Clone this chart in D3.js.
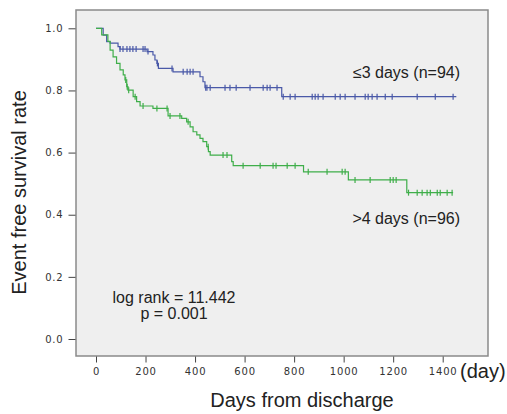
<!DOCTYPE html>
<html>
<head>
<meta charset="utf-8">
<script src="https://cdn.jsdelivr.net/npm/d3@7"></script>
<style>
  body { margin: 0; background: #fff; }
  .tick text { font-family: "DejaVu Sans", sans-serif; font-size: 10px; fill: #333; letter-spacing: 0.8px; }
  .tick line { stroke: #444; }
  .lbl { font-family: "Liberation Sans", Arial, sans-serif; fill: #222; }
</style>
</head>
<body>
<div id="graph"></div>
<script>
//x and y tick values
const xTicks = [0, 200, 400, 600, 800, 1000, 1200, 1400];
const yTicks = [0.0, 0.2, 0.4, 0.6, 0.8, 1.0];

//group <=3 days: step times and survival
const shortTimes = [0, 29, 43, 57, 89, 97, 206, 230, 238, 246, 252, 311, 420, 432, 440, 750];
const shortSurv  = [1.0, 0.978, 0.957, 0.952, 0.941, 0.933, 0.925, 0.914, 0.898, 0.887, 0.871, 0.860, 0.844, 0.828, 0.809, 0.780];
const shortEnd = 1455;
const shortCensor = [97, 109, 125, 137, 149, 162, 190, 198, 210, 248, 307, 352, 368, 380, 392, 443, 448, 461, 521, 541, 566, 622, 675, 691, 703, 731, 756, 784, 804, 873, 885, 897, 917, 966, 986, 1006, 1046, 1087, 1099, 1115, 1135, 1168, 1196, 1297, 1370, 1442];

//group >4 days
const longTimes = [0, 23, 48, 57, 69, 83, 97, 110, 117, 124, 129, 150, 164, 178, 230, 291, 346, 366, 380, 392, 407, 420, 432, 447, 454, 461, 548, 554, 838, 1019, 1255];
const longSurv  = [1.0, 0.979, 0.958, 0.930, 0.908, 0.887, 0.866, 0.850, 0.834, 0.812, 0.801, 0.780, 0.764, 0.750, 0.742, 0.718, 0.710, 0.699, 0.683, 0.667, 0.657, 0.646, 0.635, 0.619, 0.603, 0.592, 0.571, 0.558, 0.538, 0.512, 0.471];
const longEnd = 1442;
const longCensor = [120, 126, 132, 158, 190, 246, 287, 299, 339, 372, 453, 513, 529, 594, 663, 715, 727, 772, 804, 857, 933, 994, 1006, 1046, 1107, 1188, 1200, 1212, 1262, 1297, 1317, 1337, 1350, 1378, 1390, 1418, 1438];

const groups = [
    {times: shortTimes, surv: shortSurv, end: shortEnd, censor: shortCensor, color: "#4a59a8"},
    {times: longTimes, surv: longSurv, end: longEnd, censor: longCensor, color: "#3fae4a"}
];

//survival value at time t
function survAt(g, t){
    let v = g.surv[0];
    for (let i = 0; i < g.times.length; i++) {
        if (g.times[i] <= t) v = g.surv[i];
    }
    return v;
}

const svg = d3.select("#graph").append("svg")
    .attr("width", 507)
    .attr("height", 414);

const x = d3.scaleLinear().domain([0, 1400]).range([96, 442.7]);
const y = d3.scaleLinear().domain([0, 1]).range([339, 28.3]);

//plot frame
svg.append("rect")
    .attr("x", 76).attr("y", 10)
    .attr("width", 412).attr("height", 346)
    .attr("fill", "#efefef")
    .attr("stroke", "#8a8a8a")
    .attr("stroke-width", 1.5);

//axes
const xAxis = svg.append("g")
    .attr("transform", "translate(0,356.5)")
    .call(d3.axisBottom(x).tickValues(xTicks).tickFormat(d3.format("d")).tickSize(6).tickPadding(5));
xAxis.select(".domain").remove();

const yAxis = svg.append("g")
    .attr("transform", "translate(75.5,0)")
    .call(d3.axisLeft(y).tickValues(yTicks).tickFormat(d3.format(".1f")).tickSize(7).tickPadding(5));
yAxis.select(".domain").remove();

//curves
const line = d3.line()
    .x(function(d){ return x(d[0]); })
    .y(function(d){ return y(d[1]); })
    .curve(d3.curveStepAfter);

groups.forEach(function(g){
    const pts = g.times.map(function(t, i){ return [t, g.surv[i]]; });
    pts.push([g.end, g.surv[g.surv.length - 1]]);

    svg.append("path")
        .attr("d", line(pts))
        .attr("fill", "none")
        .attr("stroke", g.color)
        .attr("stroke-width", 1.2);

    svg.append("g").selectAll("line")
        .data(g.censor)
        .enter().append("line")
        .attr("x1", function(d){ return x(d); })
        .attr("x2", function(d){ return x(d); })
        .attr("y1", function(d){ return y(survAt(g, d)) - 3; })
        .attr("y2", function(d){ return y(survAt(g, d)) + 3; })
        .attr("stroke", g.color)
        .attr("stroke-width", 1.2);
});

//labels
svg.append("text").attr("class", "lbl")
    .attr("x", 460).attr("y", 78)
    .attr("text-anchor", "end").attr("font-size", 16)
    .text("≤3 days (n=94)");

svg.append("text").attr("class", "lbl")
    .attr("x", 460).attr("y", 224)
    .attr("text-anchor", "end").attr("font-size", 16)
    .text(">4 days (n=96)");

svg.append("text").attr("class", "lbl")
    .attr("x", 174).attr("y", 303)
    .attr("text-anchor", "middle").attr("font-size", 16)
    .text("log rank = 11.442");

svg.append("text").attr("class", "lbl")
    .attr("x", 174).attr("y", 319)
    .attr("text-anchor", "middle").attr("font-size", 16)
    .text("p = 0.001");

svg.append("text").attr("class", "lbl")
    .attr("x", 302).attr("y", 407)
    .attr("text-anchor", "middle").attr("font-size", 20)
    .text("Days from discharge");

svg.append("text").attr("class", "lbl")
    .attr("x", 460).attr("y", 378)
    .attr("font-size", 20)
    .text("(day)");

svg.append("text").attr("class", "lbl")
    .attr("transform", "translate(26,192.5) rotate(-90)")
    .attr("text-anchor", "middle").attr("font-size", 20)
    .text("Event free survival rate");
</script>
</body>
</html>
